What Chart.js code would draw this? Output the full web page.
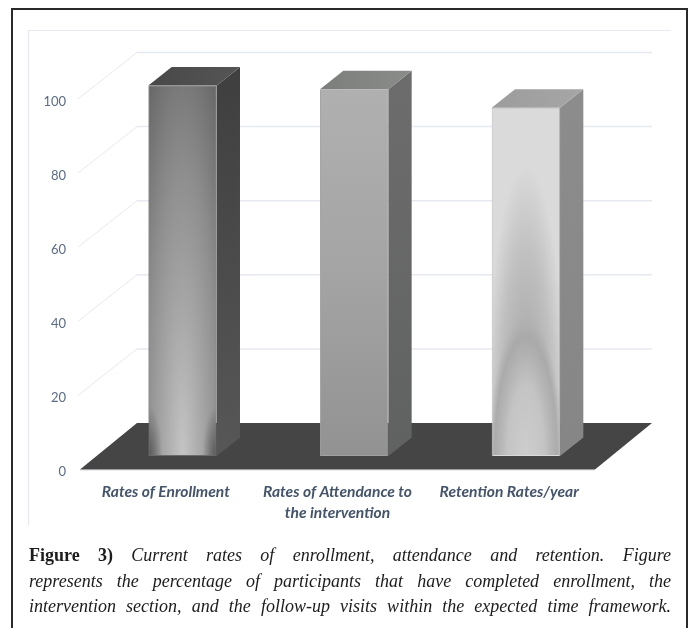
<!DOCTYPE html>
<html>
<head>
<meta charset="utf-8">
<title>Figure 3</title>
<script src="https://cdn.jsdelivr.net/npm/chart.js@4/dist/chart.umd.min.js"></script>
<style>
    html, body { margin: 0; padding: 0; background: #fff; overflow: hidden; }
    #page { position: relative; width: 694px; height: 628px; overflow: hidden; }
    #graph { position: absolute; left: 0; top: 0; }
    #frame { position: absolute; left: 11px; top: 8px; width: 673px; height: 660px; border: 2px solid #2a2a2a; }
    #caption { position: absolute; left: 29px; top: 543px; width: 642px; font-family: "Liberation Serif", serif; font-size: 18px; line-height: 25.5px; color: #1c1c1c; font-style: italic; }
    #caption div { text-align: justify; text-align-last: justify; white-space: nowrap; }
    #caption b { font-style: normal; }
</style>
</head>
<body>
<div id="page">
    <canvas id="graph" width="694" height="628"></canvas>
    <div id="frame"></div>
    <div id="caption">
        <div><b>Figure 3)</b> Current rates of enrollment, attendance and retention. Figure</div>
        <div>represents the percentage of participants that have completed enrollment, the</div>
        <div>intervention section, and the follow-up visits within the expected time framework.</div>
    </div>
</div>
<script>
var categories = ['Rates of Enrollment', ['Rates of Attendance to', 'the intervention'], 'Retention Rates/year'];
var rates = [100, 99, 94];
var y_ticks = [0, 20, 40, 60, 80, 100];

var side_colors = [['#3f403f', '#565756'], ['#6c6c6c', '#606261'], ['#8c8c8c', '#868686']];
var top_colors = [['#484848', '#545554'], ['#7c7e7c', '#8a8c8a'], ['#9c9c9c', '#a6a6a6']];
var front_colors = ['#6a6a6a', '#a0a0a0', '#dadada'];
var edge_colors = ['#6a6a6a', '#a0a0a0', '#b4b4b4'];

var floor_color = '#454545';
var grid_color = '#e7e9f0';

/*oblique offsets of the fake 3d box*/
var wall = { dx: 57, dy: -46.5 };
var bar_plane = { dx: 16.7, dy: -13.5 };
var bar_depth = { dx: 23.3, dy: -18.5 };

/*glow painted over a bar front, centered at the bottom of the bar (shift moves it sideways)*/
function glow(ctx, bar, rx, ry, stops, shift) {
    ctx.save();
    ctx.beginPath();
    ctx.rect(bar.x - bar.width / 2 + 1, bar.y + 1, bar.width - 2, bar.base - bar.y - 2);
    ctx.clip();
    ctx.translate(bar.x + (shift || 0), bar.base);
    ctx.scale(rx, ry);
    var g = ctx.createRadialGradient(0, 0, 0, 0, 0, 1);
    stops.forEach(function (s) { g.addColorStop(s[0], s[1]); });
    ctx.fillStyle = g;
    ctx.fillRect(-3, -3, 6, 6);
    ctx.restore();
}

function poly(ctx, points, fill) {
    ctx.beginPath();
    points.forEach(function (p, i) {
        if (i === 0) ctx.moveTo(p[0], p[1]); else ctx.lineTo(p[0], p[1]);
    });
    ctx.closePath();
    ctx.fillStyle = fill;
    ctx.fill();
}

var box3d = {
    id: 'box3d',
    beforeDatasetsDraw: function (chart) {
        var ctx = chart.ctx, area = chart.chartArea, y = chart.scales.y;

        ctx.save();
        ctx.strokeStyle = grid_color;

        /*outer frame of the chart*/
        ctx.lineWidth = 1.2;
        ctx.beginPath();
        ctx.moveTo(28.5, 525);
        ctx.lineTo(28.5, 30.5);
        ctx.lineTo(671, 30.5);
        ctx.stroke();

        /*wall lines*/
        y.ticks.forEach(function (t) {
            if (t.value === 0) return;
            var py = y.getPixelForValue(t.value);
            ctx.lineWidth = 1;
            ctx.beginPath();
            ctx.moveTo(area.left - 2, py);
            ctx.lineTo(area.left + wall.dx, py + wall.dy);
            ctx.stroke();
            ctx.lineWidth = 1.5;
            ctx.beginPath();
            ctx.moveTo(area.left + wall.dx, py + wall.dy);
            ctx.lineTo(area.right + wall.dx, py + wall.dy);
            ctx.stroke();
        });

        /*front edge and floor*/
        ctx.lineWidth = 1;
        ctx.beginPath();
        ctx.moveTo(area.left, area.bottom + 0.8);
        ctx.lineTo(area.right, area.bottom + 0.8);
        ctx.stroke();
        poly(ctx, [
            [area.left, area.bottom],
            [area.left + wall.dx, area.bottom + wall.dy],
            [area.right + wall.dx, area.bottom + wall.dy],
            [area.right, area.bottom]
        ], floor_color);

        /*side and top of the bars*/
        ctx.translate(bar_plane.dx, bar_plane.dy);
        chart.getDatasetMeta(0).data.forEach(function (bar, i) {
            var l = bar.x - bar.width / 2, r = bar.x + bar.width / 2;
            var d = bar_depth;

            var side = ctx.createLinearGradient(0, bar.y, 0, bar.base);
            side.addColorStop(0, side_colors[i][0]);
            side.addColorStop(1, side_colors[i][1]);
            poly(ctx, [[r, bar.y], [r + d.dx, bar.y + d.dy], [r + d.dx, bar.base + d.dy], [r, bar.base]], side);

            var lid = ctx.createLinearGradient(l, 0, r + d.dx, 0);
            lid.addColorStop(0, top_colors[i][0]);
            lid.addColorStop(1, top_colors[i][1]);
            poly(ctx, [[l, bar.y], [l + d.dx, bar.y + d.dy], [r + d.dx, bar.y + d.dy], [r, bar.y]], lid);
        });
        ctx.restore();

        /*the real bars get drawn on the same plane, undone in afterDatasetsDraw*/
        ctx.save();
        ctx.translate(bar_plane.dx, bar_plane.dy);
    },
    afterDatasetsDraw: function (chart) {
        var ctx = chart.ctx;
        var bars = chart.getDatasetMeta(0).data;

        glow(ctx, bars[0], 62, 470, [[0, '#c4c4c4'], [0.3, '#a8a8a8'], [0.6, '#8e8e8e'], [0.8, '#787878'], [1, '#626262']]);
        /*dark bottom corners*/
        var corner = [[0, 'rgba(70,70,70,0.8)'], [1, 'rgba(70,70,70,0)']];
        glow(ctx, bars[0], 14, 50, corner, -34);
        glow(ctx, bars[0], 14, 50, corner, 34);

        var linear = ctx.createLinearGradient(0, bars[1].y, 0, bars[1].base);
        linear.addColorStop(0, '#b0b0b0');
        linear.addColorStop(0.5, '#a5a4a4');
        linear.addColorStop(1, '#929292');
        ctx.fillStyle = linear;
        ctx.fillRect(bars[1].x - bars[1].width / 2 + 1, bars[1].y + 1, bars[1].width - 2, bars[1].base - bars[1].y - 2);

        glow(ctx, bars[2], 42, 290, [[0, '#aeaeae'], [0.45, '#b1b1b1'], [0.7, '#c0c0c0'], [1, '#dadada']]);
        glow(ctx, bars[2], 37, 140, [[0, '#cdcdcd'], [0.5, '#c4c4c4'], [0.85, 'rgba(168,168,168,0.85)'], [1, 'rgba(176,176,176,0)']]);

        ctx.restore();
    }
};

new Chart(document.getElementById('graph'), {
    type: 'bar',
    data: {
        labels: categories,
        datasets: [{
            data: rates,
            backgroundColor: front_colors,
            borderColor: edge_colors,
            borderWidth: 1,
            categoryPercentage: 1,
            barPercentage: 0.398,
            clip: false
        }]
    },
    options: {
        responsive: false,
        animation: false,
        layout: { padding: { left: 10, right: 99, top: 99, bottom: 0 } },
        plugins: { legend: { display: false }, tooltip: { enabled: false } },
        scales: {
            x: {
                grid: { display: false },
                border: { display: false },
                ticks: {
                    color: '#44546a',
                    padding: 4,
                    maxRotation: 0,
                    autoSkip: false,
                    font: { family: 'Lato', size: 15.6, weight: 'bold', style: 'italic', lineHeight: 1.35 }
                },
                afterFit: function (scale) { scale.height = 158.5; }
            },
            y: {
                min: 0,
                max: 100,
                grid: { display: false },
                border: { display: false },
                afterBuildTicks: function (scale) {
                    scale.ticks = y_ticks.map(function (v) { return { value: v }; });
                },
                ticks: {
                    color: '#5b6b85',
                    padding: 6,
                    /*empty first line pushes the numbers down a bit*/
                    callback: function (value) { return ['', String(value)]; },
                    font: { family: 'Lato', size: 13, lineHeight: 0.4 }
                },
                afterFit: function (scale) { scale.width = 70; }
            }
        }
    },
    plugins: [box3d]
});
</script>
</body>
</html>
